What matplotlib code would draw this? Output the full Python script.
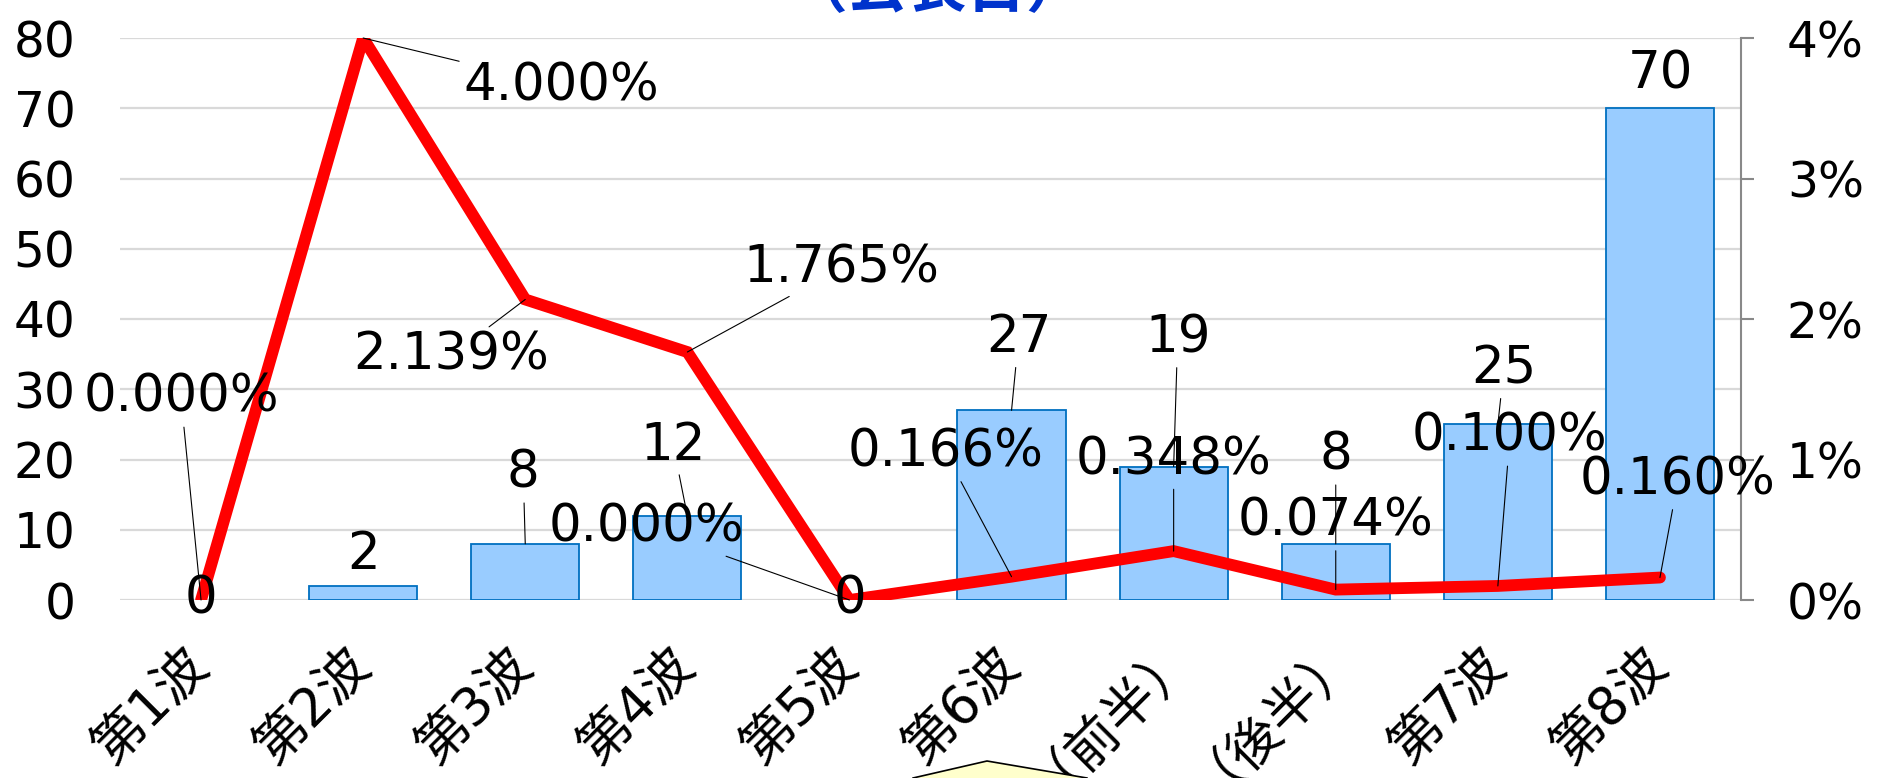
import numpy as np
import matplotlib
matplotlib.use('Agg')
import matplotlib.pyplot as plt
from matplotlib.patches import Polygon
from matplotlib.ticker import FuncFormatter
from matplotlib.transforms import ScaledTranslation

plt.rcParams['font.family'] = ['DejaVu Sans', 'Noto Sans CJK JP']

# ---- data ----
categories = ['第1波', '第2波', '第3波', '第4波', '第5波', '第6波',
              '（前半）', '（後半）', '第7波', '第8波']
counts = [0, 2, 8, 12, 0, 27, 19, 8, 25, 70]
rates = [0.000, 4.000, 2.139, 1.765, 0.000, 0.166, 0.348, 0.074, 0.100, 0.160]
left_ticks = [0, 10, 20, 30, 40, 50, 60, 70, 80]
right_ticks = [0, 1, 2, 3, 4]
title_text = '（公表日）'

# label offsets (pixels, dx, dy-up) relative to the data point
count_offsets = [(0, 0), (0, 31), (-2, 70), (-14, 70), (0, 0), (7, 72),
                 (4, 128), (0, 88), (6, 55), (0, 34)]
rate_offsets = [(-20, 202), (198, -48), (-74, -56), (154, 84), (-203, 72),
                (-66, 124), (0, 91), (0, 68), (12, 149), (18, 97)]

W, H = 1883, 778
fig = plt.figure(figsize=(W / 100, H / 100), dpi=100)
L, R, B, T = 120 / W, 1741 / W, 1 - 600 / H, 1 - 38 / H
ax = fig.add_axes([L, B, R - L, T - B])
ax2 = ax.twinx()

x = np.arange(len(categories))
edge_w = [1.3 if c > 0 else 0 for c in counts]
ax.bar(x, counts, width=0.667, color='#99CCFF', edgecolor='#0070C0',
       linewidth=edge_w, zorder=2)
ax.set_xlim(-0.5, len(categories) - 0.5)
ax.set_ylim(0, 80)
ax.set_yticks(left_ticks)
ax.grid(axis='y', color='#D9D9D9', linewidth=1.6, zorder=0)
ax.set_axisbelow(True)
for s in ax.spines.values():
    s.set_visible(False)
ax.tick_params(axis='y', length=0, pad=32, labelsize=35)
ax.set_xticks(x)
ax.set_xticklabels(categories, rotation=45, ha='right', va='center',
                   rotation_mode='anchor', fontsize=38)
ax.tick_params(axis='x', length=0, pad=42)
# full-width closing bracket carries blank space on its right side
for lab in ax.get_xticklabels():
    if lab.get_text().endswith('）'):
        lab.set_transform(lab.get_transform() +
                          ScaledTranslation(0.04, 0.33, fig.dpi_scale_trans))

ax2.plot(x, rates, color='#FF0000', lw=8.5, solid_capstyle='round',
         solid_joinstyle='miter', zorder=3)
ax2.set_ylim(0, 4)
ax2.set_yticks(right_ticks)
ax2.yaxis.set_major_formatter(FuncFormatter(lambda v, p: f'{v:.0f}%'))
for k, s in ax2.spines.items():
    s.set_visible(k == 'right')
ax2.spines['right'].set_color('#898989')
ax2.spines['right'].set_linewidth(1.5)
ax2.tick_params(axis='y', direction='out', length=9, width=1.5,
                color='#898989', pad=24, labelsize=35)

def put(xv, yv, txt, off, trans):
    dx, dy = off
    arrow = None
    if np.hypot(dx, dy) > 45:
        arrow = dict(arrowstyle='-', color='black', lw=0.8, shrinkA=1, shrinkB=0)
    ax2.annotate(txt, xy=(xv, yv), xycoords=trans, xytext=(dx, dy),
                 textcoords='offset pixels', ha='center', va='center',
                 fontsize=37, color='black', arrowprops=arrow,
                 annotation_clip=False, zorder=6)

for i in range(len(categories)):
    put(x[i], counts[i], f'{counts[i]}', count_offsets[i], ax.transData)
for i in range(len(categories)):
    put(x[i], rates[i], f'{rates[i]:.3f}%', rate_offsets[i], ax2.transData)

# partially visible title at the very top
fig.text(937 / W, 1 - 7 / H, title_text, color='#0033CC', fontsize=43,
         fontweight='bold', ha='center', va='baseline',
         family=['Noto Sans CJK JP'])

# decorative callout shape at the bottom
poly = Polygon([(913 / W, 0.0), (987 / W, 1 - 761 / H), (1087 / W, 0.0),
                (1087 / W, -0.05), (913 / W, -0.05)], closed=True,
               transform=fig.transFigure, facecolor='#FFFFCC',
               edgecolor='black', linewidth=1.2, clip_on=False)
fig.patches.append(poly)

fig.savefig('out.png', dpi=100)
